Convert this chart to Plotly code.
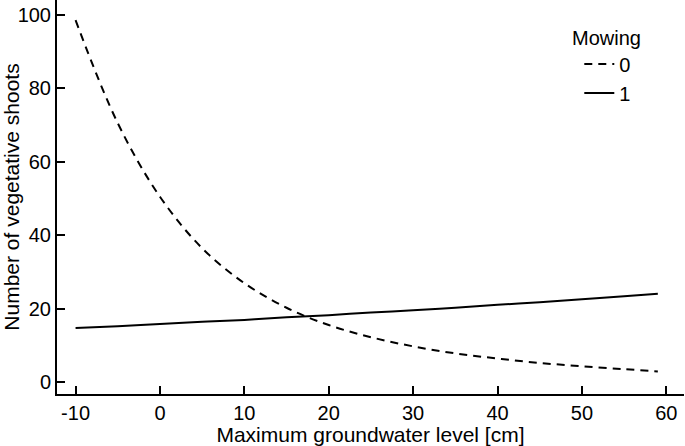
import plotly.graph_objects as go

groundwater = [-10, -5, 0, 5, 10, 15, 20, 25, 30, 35, 40, 45, 50, 55, 59]
mowing_0 = [98.5, 70.5, 50.5, 36.5, 27.0, 20.3, 15.6, 12.3, 9.8, 7.9, 6.5, 5.3, 4.4, 3.6, 3.0]
mowing_1 = [14.8, 15.3, 15.9, 16.5, 17.0, 17.7, 18.3, 19.0, 19.6, 20.3, 21.1, 21.8, 22.6, 23.4, 24.1]
x_ticks = [-10, 0, 10, 20, 30, 40, 50, 60]
x_tick_labels = ["-10", "0", "10", "20", "30", "40", "50", "60"]
y_ticks = [0, 20, 40, 60, 80, 100]

FONT = "Liberation Sans, Arial, sans-serif"
FS = 20
TFS = 21

fig = go.Figure()
fig.add_trace(go.Scatter(x=groundwater, y=mowing_0, mode="lines", name="0",
                         line=dict(color="black", width=2, dash="8px,6px", shape="spline")))
fig.add_trace(go.Scatter(x=groundwater, y=mowing_1, mode="lines", name="1",
                         line=dict(color="black", width=2, shape="spline")))

fig.update_layout(
    width=685, height=446,
    margin=dict(l=57, r=1, t=0, b=52, autoexpand=False),
    paper_bgcolor="white", plot_bgcolor="white",
    font=dict(family=FONT, size=FS, color="black"),
    showlegend=True,
    legend=dict(x=0.833, y=0.887, xanchor="left", yanchor="top",
                bgcolor="rgba(0,0,0,0)", font=dict(size=FS),
                tracegroupgap=0, itemwidth=30),
    annotations=[dict(text="Mowing", xref="paper", yref="paper", x=0.818, y=0.9036,
                      xanchor="left", yanchor="middle", showarrow=False,
                      font=dict(size=FS))],
)
fig.update_xaxes(range=[-12.2, 62.1], tickvals=x_ticks, ticktext=x_tick_labels,
                 ticks="inside", ticklen=8, tickwidth=1.5,
                 tickcolor="black", showline=True, linecolor="black", linewidth=2,
                 showgrid=False, zeroline=False, automargin=False,
                 title=dict(text="Maximum groundwater level [cm]", standoff=2,
                            font=dict(size=TFS)),
                 tickfont=dict(size=FS))
fig.update_yaxes(range=[-3.15, 104.0], tickvals=y_ticks, ticks="inside", ticklen=8, tickwidth=1.5,
                 tickcolor="black", showline=True, linecolor="black", linewidth=2,
                 showgrid=False, zeroline=False, automargin=False,
                 title=dict(text="Number of vegetative shoots", standoff=4,
                            font=dict(size=TFS)),
                 tickfont=dict(size=FS))

fig.write_html("out.html", config={"displayModeBar": False},
               post_script="document.body.style.margin='0';document.body.style.overflow='hidden';")
